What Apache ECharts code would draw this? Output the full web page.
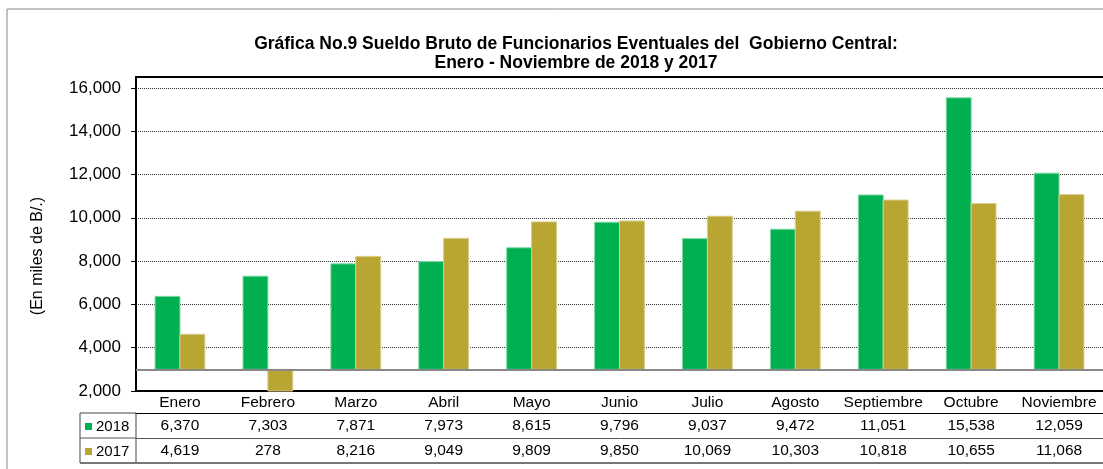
<!DOCTYPE html>
<html>
<head>
<meta charset="utf-8">
<script src="https://cdn.jsdelivr.net/npm/echarts@6/dist/echarts.min.js"></script>
<style>
	html, body { margin: 0; padding: 0; background: #fff; }
	#main { width: 1103px; height: 469px; }
</style>
</head>
<body>
<div id="main"></div>
<script>
	// datos de la grafica
	var meses = ['Enero', 'Febrero', 'Marzo', 'Abril', 'Mayo', 'Junio', 'Julio', 'Agosto', 'Septiembre', 'Octubre', 'Noviembre'];
	var serie2018 = [6370, 7303, 7871, 7973, 8615, 9796, 9037, 9472, 11051, 15538, 12059];
	var serie2017 = [4619, 278, 8216, 9049, 9809, 9850, 10069, 10303, 10818, 10655, 11068];
	var cruceEje = 3000; // el eje horizontal cruza en 3,000

	var fuente = "'Liberation Sans', Arial, sans-serif";
	var verde = '#00B050';
	var dorado = '#B8A532';

	function fmt(v) {
		return v.toLocaleString('en-US');
	}

	// barras que salen desde el cruce del eje (3,000) y se recortan al area
	function barra(lado) {
		return function(params, api) {
			var base = api.coord([api.value(0), cruceEje]);
			var tope = api.coord([api.value(0), api.value(1)]);
			var w = api.size([1, 0])[0] * 0.283;
			var x = lado < 0 ? base[0] - w : base[0];
			var r = echarts.graphic.clipRectByRect({
				x: x,
				y: Math.min(base[1], tope[1]),
				width: w,
				height: Math.abs(tope[1] - base[1])
			}, {
				x: params.coordSys.x,
				y: params.coordSys.y,
				width: params.coordSys.width,
				height: params.coordSys.height
			});
			return r && {
				type: 'rect',
				shape: r,
				style: api.style()
			};
		};
	}

	var chart = echarts.init(document.getElementById('main'));

	var option = {
		animation: false,
		textStyle: { fontFamily: fuente },
		title: {
			text: 'Gráfica No.9 Sueldo Bruto de Funcionarios Eventuales del  Gobierno Central:\nEnero - Noviembre de 2018 y 2017',
			left: 576,
			top: 35,
			textAlign: 'center',
			padding: 0,
			textStyle: {
				fontFamily: fuente,
				fontSize: 17.5,
				fontWeight: 'bold',
				color: '#000',
				lineHeight: 19
			}
		},
		legend: {
			orient: 'vertical',
			left: 85,
			top: 419,
			padding: 0,
			itemWidth: 7,
			itemHeight: 7,
			itemGap: 10,
			icon: 'rect',
			selectedMode: false,
			itemStyle: { borderWidth: 0 },
			textStyle: { fontFamily: fuente, fontSize: 15, color: '#000', padding: [0, 0, 0, -1] },
			data: ['2018', '2017']
		},
		grid: {
			left: 136,
			right: -5,
			top: 77,
			bottom: 78
		},
		yAxis: {
			type: 'value',
			min: 2000,
			max: 16500,
			interval: 2000,
			name: '(En miles de B/.)',
			nameLocation: 'middle',
			nameRotate: 90,
			nameGap: 90,
			nameTextStyle: { fontFamily: fuente, fontSize: 16, color: '#000', padding: [0, 44, 0, 0] },
			axisLine: { show: true, lineStyle: { color: '#000', width: 2 } },
			axisTick: { show: true, length: 5, lineStyle: { color: '#000' } },
			axisLabel: {
				showMaxLabel: false,
				margin: 15,
				fontSize: 17,
				color: '#000',
				formatter: function(v) { return fmt(v); }
			},
			splitLine: { lineStyle: { color: '#333', type: [1, 1], width: 1 } }
		},
		xAxis: [{
				// fila de encabezados (meses)
				type: 'category',
				data: meses,
				position: 'bottom',
				axisLine: { lineStyle: { color: '#000', width: 2 } },
				axisTick: { length: 22, lineStyle: { color: '#000' } },
				axisLabel: { interval: 0, margin: 4, fontSize: 15.5, color: '#000' }
			},
			{
				// fila 2018
				type: 'category',
				data: serie2018.map(fmt),
				position: 'bottom',
				offset: 22,
				axisLine: { lineStyle: { color: '#000', width: 1 } },
				axisTick: { length: 25, lineStyle: { color: '#000' } },
				axisLabel: { interval: 0, margin: 5, fontSize: 15.5, color: '#000' }
			},
			{
				// fila 2017
				type: 'category',
				data: serie2017.map(fmt),
				position: 'bottom',
				offset: 47,
				axisLine: { lineStyle: { color: '#555', width: 1 } },
				axisTick: { length: 25, lineStyle: { color: '#000' } },
				axisLabel: { interval: 0, margin: 5, fontSize: 15.5, color: '#000' }
			},
			{
				// borde inferior de la tabla
				type: 'category',
				data: meses,
				position: 'bottom',
				offset: 72,
				axisLine: { lineStyle: { color: '#777', width: 2 } },
				axisTick: { show: false },
				axisLabel: { show: false }
			},
			{
				// borde superior del area de trazado
				type: 'category',
				data: meses,
				position: 'top',
				axisLine: { lineStyle: { color: '#000', width: 2 } },
				axisTick: { show: false },
				axisLabel: { show: false }
			}
		],
		graphic: [{
				// marco exterior
				type: 'rect',
				silent: true,
				shape: { x: 7, y: 9, width: 1300, height: 600 },
				style: { fill: 'none', stroke: '#888', lineWidth: 1 }
			},
			{
				// caja de la leyenda en la tabla
				type: 'rect',
				silent: true,
				shape: { x: 80, y: 413, width: 56, height: 50 },
				style: { fill: 'none', stroke: '#444', lineWidth: 1 }
			},
			{
				type: 'line',
				silent: true,
				shape: { x1: 80, y1: 438, x2: 136, y2: 438 },
				style: { stroke: '#555', lineWidth: 1 }
			},
			{
				type: 'line',
				silent: true,
				shape: { x1: 80, y1: 463, x2: 136, y2: 463 },
				style: { stroke: '#777', lineWidth: 2 }
			}
		],
		series: [{
				name: '2018',
				type: 'custom',
				renderItem: barra(-1),
				itemStyle: { color: verde, borderColor: '#7FD8A6', borderWidth: 1 },
				encode: { x: 0, y: 1 },
				data: serie2018.map(function(v, i) { return [i, v]; }),
				z: 3
			},
			{
				name: '2017',
				type: 'custom',
				renderItem: barra(1),
				itemStyle: { color: dorado, borderColor: '#D8CC88', borderWidth: 1 },
				encode: { x: 0, y: 1 },
				data: serie2017.map(function(v, i) { return [i, v]; }),
				z: 3
			},
			{
				// linea del eje de categorias en 3,000
				name: 'eje',
				type: 'line',
				data: [],
				silent: true,
				markLine: {
					silent: true,
					symbol: 'none',
					label: { show: false },
					lineStyle: { color: '#888', width: 2, type: 'solid' },
					data: [{ yAxis: cruceEje }]
				},
				z: 2
			}
		]
	};

	chart.setOption(option);
</script>
</body>
</html>
